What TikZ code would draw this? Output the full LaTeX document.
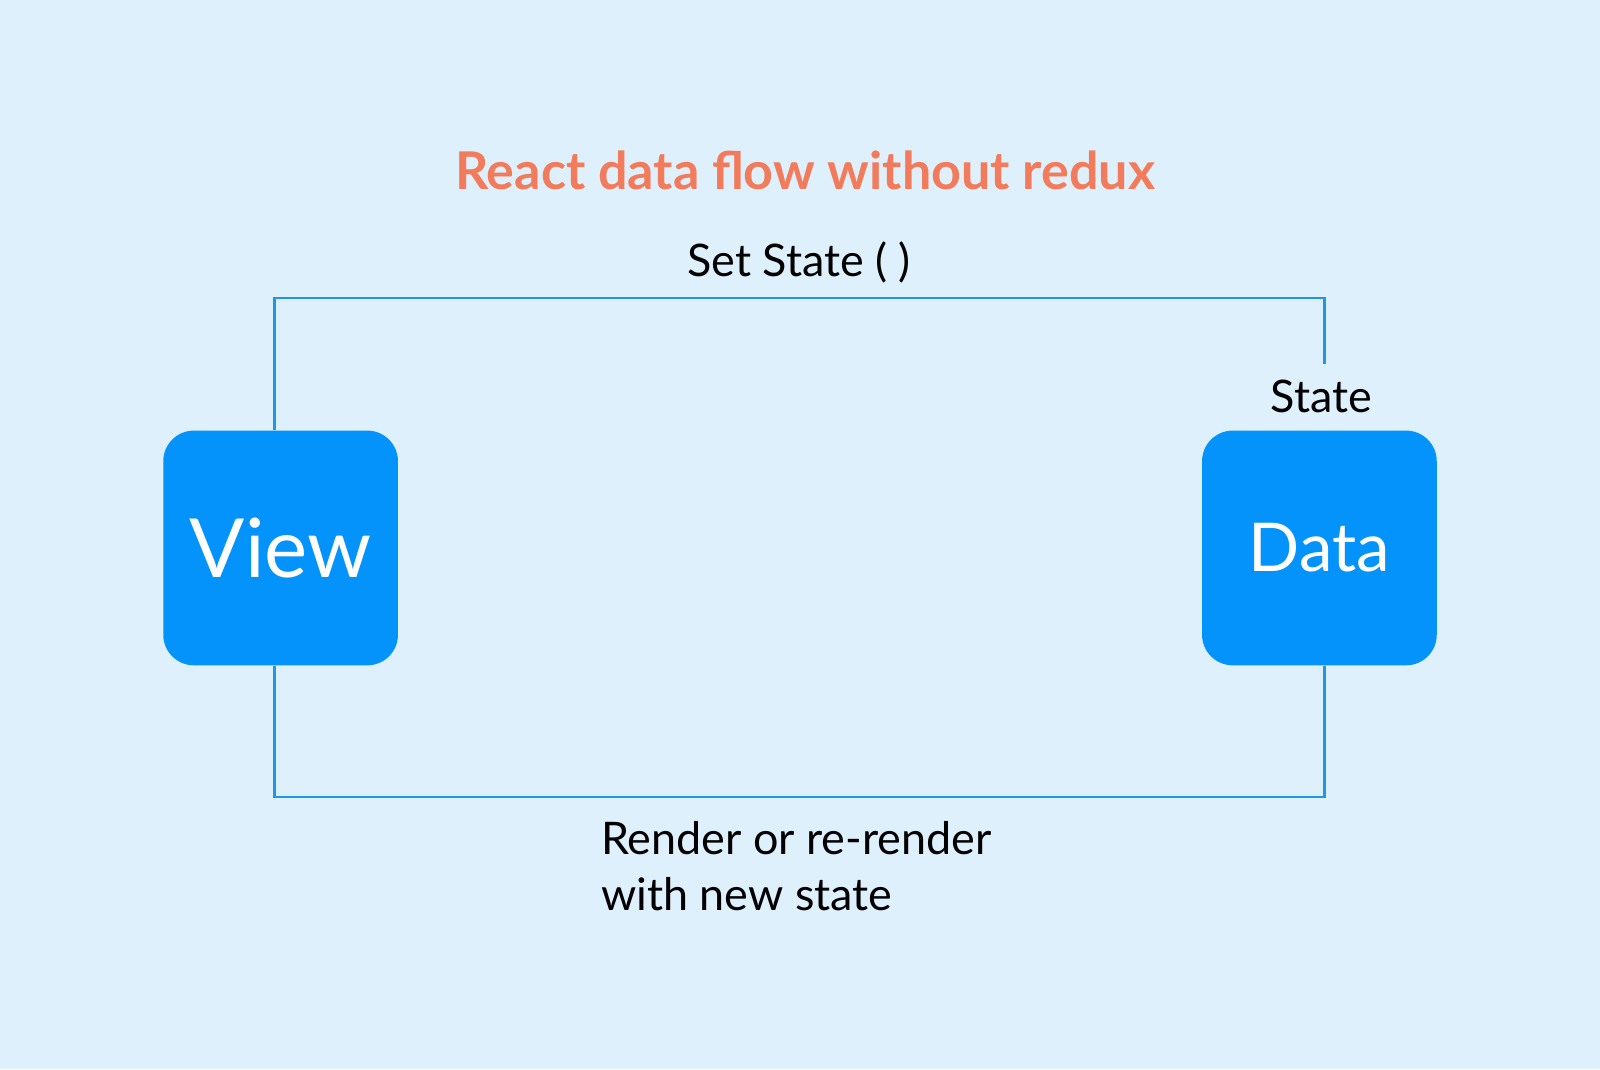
\documentclass[tikz,border=0pt]{standalone}
\usepackage{fontspec}
\setmainfont{Lato}
\definecolor{bg}{HTML}{DFF0FD}
\definecolor{box}{HTML}{0492FB}
\definecolor{ln}{HTML}{2196E8}
\definecolor{ttl}{HTML}{F27B5B}
\begin{document}
\begin{tikzpicture}[x=0.5pt,y=-0.5pt,
  blk/.style={fill=box,rounded corners=15pt,minimum width=115pt,minimum height=115pt,text=white,inner sep=0},
  wire/.style={draw=ln,line width=1.4pt},
  lbl/.style={font=\fontsize{22}{27.5}\selectfont,text=black}]
\fill[bg] (0,0) rectangle (1568,1048);
\useasboundingbox (0,0) rectangle (1568,1048);
\node[text=ttl,font=\fontsize{25.5}{30}\selectfont\bfseries] (title) at (789,167) {React data flow without redux};
\node[lbl] (set) at (783,257) {Set State ( )};
\node[blk,font=\fontsize{40}{48}\selectfont] (view) at (275,537) {View};
\node[blk,font=\fontsize{33}{40}\selectfont] (data) at (1293,537) {Data};
\node[lbl] (state) at (1295,388) {State};
\node[lbl,align=left,anchor=north west] (render) at (582,798) {Render or re-render\\with new state};
\coordinate (sEnd) at (1298,357);
\draw[wire] (view.north -| 269,0) |- (1298,292) -- (sEnd);
\draw[wire] (view.south -| 269,0) |- (1298,781) -- (data.south -| 1298,0);
\end{tikzpicture}
\end{document}
